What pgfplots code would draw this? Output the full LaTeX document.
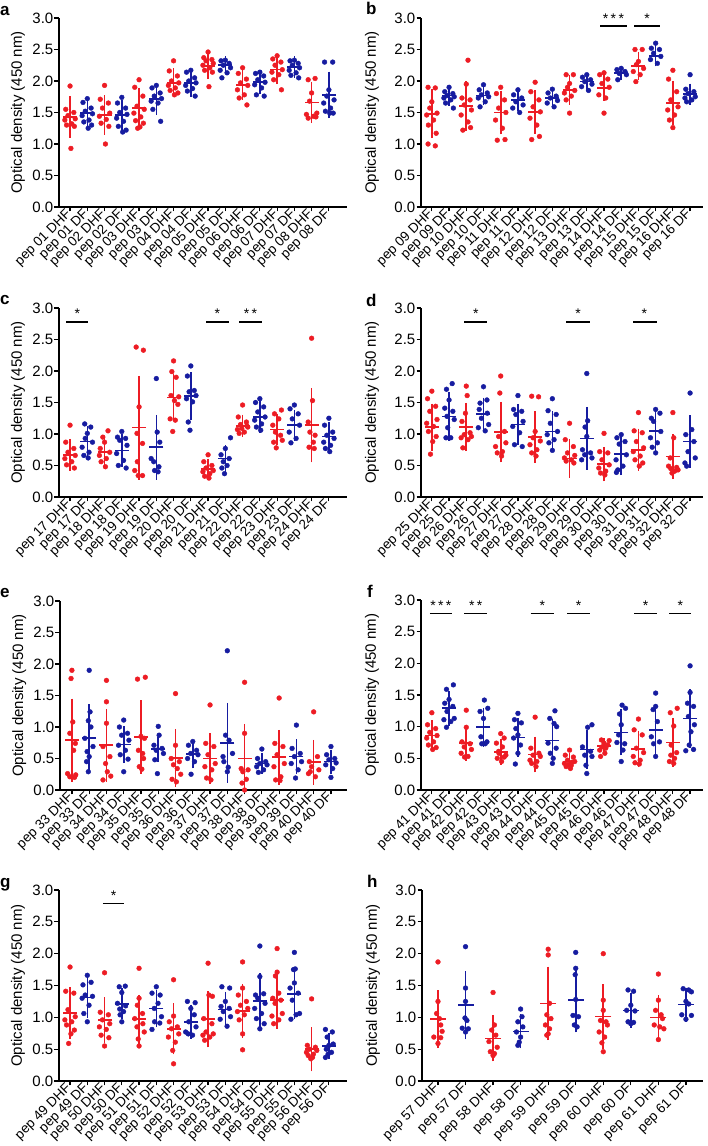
\documentclass[border=0pt]{standalone}
\usepackage{fontspec}
\setmainfont{Liberation Sans}
\usepackage{pgfplots}
\pgfplotsset{compat=1.18}
\definecolor{rc}{RGB}{237,28,36}
\definecolor{bc}{RGB}{22,28,160}
\pgfplotsset{
  panel/.style={
    scale only axis,
    axis lines*=left,
    ymin=0, ymax=3,
    ytick={0,0.5,1,1.5,2,2.5,3},
    yticklabels={0.0,0.5,1.0,1.5,2.0,2.5,3.0},
    xtick={0,...,15},
    tick align=outside,
    major tick length=4.5pt,
    axis line style={line width=1.4pt, black},
    tick style={line width=1.2pt, black},
    yticklabel style={font=\fontsize{15}{15}\selectfont, inner sep=1pt},
    xticklabel style={font=\fontsize{13.5}{13.5}\selectfont, rotate=45, anchor=east, inner sep=1pt},
    ylabel={Optical density (450 nm)},
    clip=false,
  },
  left panel/.style={panel, width=288pt, height=189pt, xmin=-0.64, xmax=16.05,
    ylabel style={font=\fontsize{15}{15}\selectfont, at={(axis description cs:-0.142,0.5)}, anchor=center}},
  right panel/.style={panel, width=282pt, height=189pt, xmin=-0.63, xmax=15.75,
    ylabel style={font=\fontsize{15}{15}\selectfont, at={(axis description cs:-0.174,0.5)}, anchor=center}},
  dots/.style={only marks, mark=*, mark size=2.4pt, color=#1, mark options={draw=none, fill=#1}},
  msd/.style={only marks, color=#1, mark=-, mark size=7pt, mark options={line width=1.6pt, draw=#1},
    error bars/y dir=both, error bars/y explicit, error bars/error mark=-,
    error bars/error mark options={line width=1.6pt, mark size=3.7pt, draw=#1},
    error bars/error bar style={line width=1.6pt, draw=#1}},
  msdh/.style={msd=#1, mark size=8pt, error bars/error mark options={line width=1.6pt, mark size=4.6pt, draw=#1}},
  sig/.style={black, line width=1.5pt, forget plot},
}
\tikzset{sigtxt/.style={font=\fontsize{14}{14}\selectfont, anchor=base, yshift=3pt, inner sep=0pt},
  letter/.style={font=\fontsize{17}{17}\bfseries\selectfont, anchor=base west, inner sep=0pt}}
\begin{document}
\begin{tikzpicture}
\useasboundingbox (0,0) rectangle (708pt,1146pt);
% ---------------- a
\begin{axis}[left panel, at={(59pt,939pt)}, anchor=south west,
 xticklabels={pep 01 DHF,pep 01 DF,pep 02 DHF,pep 02 DF,pep 03 DHF,pep 03 DF,pep 04 DHF,pep 04 DF,pep 05 DHF,pep 05 DF,pep 06 DHF,pep 06 DF,pep 07 DHF,pep 07 DF,pep 08 DHF,pep 08 DF}]
\addplot[dots=rc] coordinates {
(0,1.92)(-.25,1.55)(.22,1.50)(-.12,1.45)(.30,1.40)(-.30,1.38)(.10,1.32)(-.20,1.30)(.25,1.28)(.05,0.93)
(2,1.93)(1.75,1.71)(2.22,1.65)(1.88,1.57)(2.30,1.49)(1.70,1.44)(2.10,1.39)(1.80,1.33)(2.25,1.28)(2.05,1.00)
(4,2.02)(3.75,1.90)(4.22,1.76)(3.88,1.60)(4.30,1.55)(3.70,1.49)(4.10,1.43)(3.80,1.37)(4.25,1.33)(4.05,1.27)(3.92,1.25)
(6,2.32)(5.75,2.16)(6.22,2.08)(5.88,2.00)(6.30,1.97)(5.70,1.93)(6.10,1.89)(5.80,1.85)(6.25,1.81)(6.05,1.78)
(8,2.46)(7.75,2.37)(8.22,2.34)(7.88,2.32)(8.30,2.28)(7.70,2.25)(8.10,2.21)(7.80,2.17)(8.25,2.14)(8.05,1.91)
(10,2.21)(9.75,2.12)(10.22,2.03)(9.88,1.97)(10.30,1.93)(9.70,1.86)(10.10,1.78)(9.80,1.73)(10.25,1.62)
(12,2.40)(11.75,2.35)(12.22,2.30)(11.88,2.25)(12.30,2.18)(11.70,2.14)(12.10,2.10)(11.80,2.02)(12.25,1.86)
(13.8,2.02)(14.2,2.04)(14,1.81)(13.88,1.68)(14.30,1.49)(13.70,1.47)(14.10,1.44)(13.80,1.41)(14.25,1.43)};
\addplot[dots=bc] coordinates {
(1,1.72)(.75,1.66)(1.22,1.57)(.88,1.52)(1.30,1.48)(.70,1.45)(1.10,1.38)(.80,1.35)(1.25,1.30)(1.05,1.25)
(3,1.74)(2.75,1.65)(3.22,1.57)(2.88,1.50)(3.30,1.47)(2.70,1.41)(3.10,1.36)(2.80,1.28)(3.25,1.22)(3.05,1.19)
(5,1.93)(4.75,1.89)(5.22,1.81)(4.88,1.76)(5.30,1.72)(4.70,1.68)(5.10,1.65)(4.80,1.55)(5.25,1.36)
(7,2.17)(6.75,2.14)(7.22,2.05)(6.88,2.00)(7.30,1.97)(6.70,1.93)(7.10,1.88)(6.80,1.84)(7.25,1.76)
(9,2.33)(8.75,2.32)(9.22,2.28)(8.88,2.25)(9.30,2.21)(8.70,2.17)(9.10,2.13)(8.80,2.05)
(11,2.14)(10.75,2.12)(11.22,2.08)(10.88,2.02)(11.30,1.98)(10.70,1.94)(11.10,1.89)(10.80,1.78)(11.25,1.76)
(13,2.33)(12.75,2.32)(13.22,2.28)(12.88,2.25)(13.30,2.21)(12.70,2.17)(13.10,2.13)(12.80,2.09)(13.25,2.05)
(14.75,2.30)(15.22,2.30)(15,1.86)(14.88,1.76)(15.30,1.70)(14.70,1.65)(15.10,1.57)(14.80,1.52)(15.25,1.49)(15.05,1.49)};
\addplot[msd=rc] coordinates {(0,1.43)+-(0,0.27) (2,1.46)+-(0,0.255) (4,1.57)+-(0,0.265) (6,1.97)+-(0,0.17) (8,2.24)+-(0,0.15) (10,1.94)+-(0,0.18) (12,2.18)+-(0,0.17) (14,1.66)+-(0,0.27)};
\addplot[msd=bc] coordinates {(1,1.49)+-(0,0.19) (3,1.46)+-(0,0.185) (5,1.71)+-(0,0.185) (7,1.97)+-(0,0.165) (9,2.25)+-(0,0.08) (11,1.98)+-(0,0.135) (13,2.22)+-(0,0.11) (15,1.78)+-(0,0.31)};
\end{axis}
% ---------------- b
\begin{axis}[right panel, at={(421pt,939pt)}, anchor=south west,
 xticklabels={pep 09 DHF,pep 09 DF,pep 10 DHF,pep 10 DF,pep 11 DHF,pep 11 DF,pep 12 DHF,pep 12 DF,pep 13 DHF,pep 13 DF,pep 14 DHF,pep 14 DF,pep 15 DHF,pep 15 DF,pep 16 DHF,pep 16 DF}]
\addplot[dots=rc] coordinates {
(-.22,1.90)(.20,1.89)(0,1.67)(-.12,1.57)(.30,1.49)(-.30,1.46)(.10,1.38)(-.20,1.30)(.25,1.17)(-.22,1.00)(.20,0.97)
(2.10,2.33)(2,1.95)(1.75,1.73)(2.22,1.70)(1.88,1.62)(2.30,1.54)(1.70,1.46)(2.10,1.35)(2.25,1.26)(1.80,1.22)
(4,1.90)(3.75,1.80)(4.22,1.70)(3.88,1.57)(4.30,1.50)(3.70,1.38)(4.10,1.25)(3.80,1.06)(4.25,1.07)
(6,1.98)(5.75,1.83)(6.22,1.70)(5.88,1.59)(6.30,1.51)(5.70,1.41)(6.10,1.30)(6.25,1.12)(5.80,1.07)
(7.8,2.10)(8.22,2.10)(8,1.96)(7.88,1.90)(8.30,1.85)(7.70,1.81)(8.10,1.76)(7.80,1.70)(8,1.49)
(10,2.13)(9.75,2.10)(10.22,2.03)(9.88,1.96)(10.30,1.90)(9.70,1.78)(10.10,1.73)(10,1.49)
(11.8,2.50)(12.22,2.50)(12,2.31)(11.88,2.26)(12.30,2.20)(11.70,2.15)(12.10,2.10)(11.85,1.99)
(14,2.17)(13.75,2.03)(14.22,1.83)(13.88,1.70)(14.30,1.59)(13.70,1.54)(14.10,1.46)(13.80,1.38)(14,1.26)};
\addplot[dots=bc] coordinates {
(1,1.90)(.75,1.83)(1.22,1.80)(.88,1.77)(1.30,1.75)(.70,1.73)(1.10,1.70)(.80,1.65)(1.25,1.57)
(3,1.94)(2.75,1.86)(3.22,1.81)(2.88,1.78)(3.30,1.75)(2.70,1.73)(3.10,1.67)(2.80,1.59)
(5,1.86)(4.75,1.78)(5.22,1.73)(4.88,1.67)(5.30,1.62)(4.70,1.57)(5.10,1.50)
(7,1.87)(6.75,1.81)(7.22,1.76)(6.88,1.73)(7.30,1.69)(6.70,1.65)(7.10,1.59)
(9,2.10)(8.75,2.06)(9.22,2.02)(8.88,1.99)(9.30,1.95)(8.70,1.91)(9.10,1.85)
(11,2.20)(10.75,2.18)(11.22,2.15)(10.88,2.12)(11.30,2.10)(10.80,2.02)
(13,2.60)(12.75,2.52)(13.22,2.50)(12.88,2.44)(13.30,2.39)(12.70,2.34)(13.10,2.28)
(15,2.10)(14.75,1.87)(15.22,1.83)(14.88,1.80)(15.30,1.75)(14.70,1.73)(15.10,1.70)(14.80,1.67)};
\addplot[msd=rc] coordinates {(0,1.48)+-(0,0.33) (2,1.60)+-(0,0.34) (4,1.50)+-(0,0.29) (6,1.51)+-(0,0.285) (8,1.86)+-(0,0.18) (10,1.89)+-(0,0.145) (12,2.24)+-(0,0.165) (14,1.65)+-(0,0.295)};
\addplot[msd=bc] coordinates {(1,1.77)+-(0,0.105) (3,1.77)+-(0,0.085) (5,1.70)+-(0,0.12) (7,1.73)+-(0,0.085) (9,1.99)+-(0,0.075) (11,2.13)+-(0,0.055) (13,2.40)+-(0,0.11) (15,1.79)+-(0,0.11)};
\addplot[sig] coordinates {(9.77,2.87)(11.32,2.87)};
\addplot[sig] coordinates {(11.75,2.87)(13.25,2.87)};
\node[sigtxt] at (axis cs:10.55,2.87) {*\,*\,*};
\node[sigtxt] at (axis cs:12.5,2.87) {*};
\end{axis}
% ---------------- c
\begin{axis}[left panel, at={(59pt,649pt)}, anchor=south west,
 xticklabels={pep 17 DHF,pep 17 DF,pep 18 DHF,pep 18 DF,pep 19 DHF,pep 19 DF,pep 20 DHF,pep 20 DF,pep 21 DHF,pep 21 DF,pep 22 DHF,pep 22 DF,pep 23 DHF,pep 23 DF,pep 24 DHF,pep 24 DF}]
\addplot[dots=rc] coordinates {
(0,1.14)(-.25,0.87)(.22,0.77)(-.12,0.71)(.30,0.66)(-.30,0.61)(.10,0.56)(-.20,0.51)(.25,0.46)
(2.2,1.05)(1.9,0.95)(2,0.87)(1.75,0.77)(2.3,0.71)(1.7,0.66)(2.1,0.61)(1.8,0.56)(2.05,0.48)
(3.83,2.38)(4.25,2.33)(4,1.43)(3.88,1.01)(4.2,0.85)(3.9,0.56)(3.75,0.42)(3.95,0.34)(4.2,0.34)
(6,2.16)(5.9,1.99)(6.15,1.90)(5.85,1.61)(6.3,1.59)(6.05,1.53)(6.25,1.47)(5.8,1.24)(6.1,1.22)(5.95,1.04)
(8,0.67)(7.75,0.56)(8.22,0.50)(7.88,0.46)(8.30,0.42)(7.70,0.40)(8.10,0.37)(7.80,0.33)(8.05,0.30)
(10,1.46)(9.75,1.27)(10.22,1.19)(9.88,1.15)(10.30,1.11)(9.70,1.07)(10.10,1.03)(9.80,1.01)(10.25,1.13)(9.95,1.09)
(12.25,1.38)(11.85,1.32)(12.1,1.24)(11.75,1.14)(11.9,1.03)(12.2,0.98)(12.3,0.90)(11.8,0.87)(11.95,0.78)
(14,2.52)(14.05,1.53)(13.8,1.19)(13.9,1.03)(14.2,0.98)(14.1,0.87)(13.85,0.79)(14.15,0.77)};
\addplot[dots=bc] coordinates {
(.85,1.16)(1.2,1.11)(1,1.01)(.88,0.93)(1.3,0.87)(.7,0.79)(1.1,0.71)(.8,0.66)(1.05,0.62)
(3,1.04)(2.75,0.95)(3.22,0.93)(2.88,0.90)(3.30,0.82)(2.70,0.69)(3.10,0.58)(2.80,0.50)(3.25,0.46)
(5,1.88)(5.05,1.03)(5.2,0.87)(4.7,0.61)(4.85,0.56)(5.15,0.48)(4.9,0.42)(5.1,0.40)
(7,2.08)(6.8,1.92)(7.2,1.69)(6.9,1.67)(7.3,1.61)(6.75,1.56)(7.1,1.51)(6.85,1.19)(6.95,1.06)
(9.3,0.94)(9,0.77)(8.75,0.67)(9.22,0.61)(8.88,0.56)(9.1,0.50)(8.8,0.46)(8.95,0.37)
(11,1.56)(10.75,1.50)(11.22,1.43)(10.88,1.35)(11.30,1.27)(10.70,1.22)(11.10,1.16)(10.80,1.11)(11.05,1.06)
(13,1.46)(12.75,1.40)(13.22,1.32)(12.88,1.24)(13.30,1.14)(12.70,1.03)(13.10,0.93)(12.80,0.86)
(15,1.25)(14.75,1.14)(15.22,1.03)(14.88,0.98)(15.30,0.93)(14.70,0.87)(15.10,0.82)(14.80,0.77)(15.05,0.72)};
\addplot[msd=rc] coordinates {(0,0.67)+-(0,0.195) (2,0.71)+-(0,0.205) (4,1.10)+-(0,0.765) (6,1.58)+-(0,0.315) (8,0.44)+-(0,0.105) (10,1.13)+-(0,0.12) (12,1.07)+-(0,0.185) (14,1.14)+-(0,0.53)};
\addplot[msd=bc] coordinates {(1,0.88)+-(0,0.185) (3,0.74)+-(0,0.205) (5,0.79)+-(0,0.455) (7,1.60)+-(0,0.325) (9,0.61)+-(0,0.155) (11,1.27)+-(0,0.19) (13,1.14)+-(0,0.185) (15,0.96)+-(0,0.175)};
\addplot[sig] coordinates {(-0.22,2.78)(1.05,2.78)};
\addplot[sig] coordinates {(7.9,2.78)(9.2,2.78)};
\addplot[sig] coordinates {(9.82,2.78)(11.12,2.78)};
\node[sigtxt] at (axis cs:0.43,2.78) {*};
\node[sigtxt] at (axis cs:8.53,2.78) {*};
\node[sigtxt] at (axis cs:10.45,2.78) {*\,*};
\end{axis}
% ---------------- d
\begin{axis}[right panel, at={(421pt,649pt)}, anchor=south west,
 xticklabels={pep 25 DHF,pep 25 DF,pep 26 DHF,pep 26 DF,pep 27 DHF,pep 27 DF,pep 28 DHF,pep 28 DF,pep 29 DHF,pep 29 DF,pep 30 DHF,pep 30 DF,pep 31 DHF,pep 31 DF,pep 32 DHF,pep 32 DF}]
\addplot[dots=rc] coordinates {
(0,1.68)(-.25,1.56)(.22,1.44)(-.12,1.36)(.30,1.23)(-.30,1.17)(.10,1.12)(-.20,1.04)(.25,0.96)(.05,0.88)(-.08,0.68)
(2,1.76)(2.05,1.61)(1.95,1.33)(1.75,1.20)(2.22,1.02)(1.88,0.99)(2.30,0.96)(1.70,0.94)(2.10,0.91)(1.80,0.78)
(4,1.92)(3.95,1.65)(4.22,1.04)(3.88,0.96)(4.30,0.86)(3.70,0.80)(4.10,0.72)(3.80,0.70)(4.05,0.65)
(5.8,1.60)(6.2,1.59)(6,1.04)(5.88,0.94)(6.30,0.89)(5.70,0.83)(6.10,0.75)(5.80,0.70)(6.05,0.65)
(8,1.17)(7.75,0.91)(8.22,0.80)(7.88,0.70)(8.30,0.66)(7.70,0.62)(8.10,0.59)(7.80,0.57)(8.25,0.54)
(10,1.01)(9.75,0.72)(10.22,0.70)(9.88,0.59)(10.30,0.51)(9.70,0.46)(10.10,0.41)(9.80,0.38)(10.05,0.35)
(12,1.34)(11.75,1.05)(12.22,1.02)(11.88,0.88)(12.30,0.78)(11.70,0.72)(12.10,0.65)(11.80,0.59)(12.25,0.54)(12.05,0.49)
(14,1.34)(14.05,0.94)(13.85,0.62)(13.75,0.49)(14.22,0.47)(13.88,0.45)(14.30,0.43)(14.10,0.41)(13.95,0.38)};
\addplot[dots=bc] coordinates {
(1.18,1.80)(.85,1.71)(1,1.54)(.75,1.41)(1.22,1.36)(.88,1.28)(1.3,1.23)(.92,1.10)(.82,0.94)(1.1,0.94)
(3,1.75)(3.2,1.54)(2.8,1.49)(2.75,1.39)(3.22,1.33)(2.88,1.25)(3.30,1.15)(2.70,1.10)(3.10,1.05)
(5,1.61)(4.75,1.39)(5.22,1.36)(4.88,1.31)(5.30,1.20)(4.70,1.12)(5.10,1.02)(4.80,0.83)(5.25,0.80)
(7,1.56)(6.75,1.37)(7.22,1.31)(6.88,1.17)(7.30,1.04)(6.70,0.99)(7.10,0.91)(6.80,0.86)(7,0.74)
(9,1.96)(9.05,1.21)(8.9,1.11)(9,0.96)(8.75,0.75)(9.22,0.70)(8.88,0.67)(9.30,0.62)(8.70,0.59)
(11,0.99)(10.75,0.94)(11.22,0.88)(10.88,0.84)(11.30,0.67)(10.70,0.59)(11.10,0.49)(10.80,0.43)(10.72,0.39)
(13,1.39)(13.25,1.33)(12.75,1.25)(12.88,1.20)(13.30,1.04)(12.70,0.94)(13.10,0.86)(12.80,0.79)(13,0.70)
(15,1.65)(15.1,1.07)(14.75,0.99)(15.22,0.88)(14.88,0.72)(15.30,0.62)(14.70,0.54)(14.80,0.49)};
\addplot[msd=rc] coordinates {(0,1.11)+-(0,0.315) (2,1.11)+-(0,0.325) (4,1.03)+-(0,0.42) (6,0.95)+-(0,0.35) (8,0.61)+-(0,0.245) (10,0.52)+-(0,0.215) (12,0.75)+-(0,0.275) (14,0.64)+-(0,0.295)};
\addplot[msd=bc] coordinates {(1,1.28)+-(0,0.33) (3,1.32)+-(0,0.20) (5,1.15)+-(0,0.27) (7,1.04)+-(0,0.265) (9,0.93)+-(0,0.44) (11,0.68)+-(0,0.275) (13,1.05)+-(0,0.28) (15,0.88)+-(0,0.36)};
\addplot[sig] coordinates {(1.88,2.78)(3.22,2.78)};
\addplot[sig] coordinates {(7.8,2.78)(9.2,2.78)};
\addplot[sig] coordinates {(11.7,2.78)(13.1,2.78)};
\node[sigtxt] at (axis cs:2.55,2.78) {*};
\node[sigtxt] at (axis cs:8.5,2.78) {*};
\node[sigtxt] at (axis cs:12.35,2.78) {*};
\end{axis}
% ---------------- e
\begin{axis}[left panel, at={(60pt,356pt)}, anchor=south west, width=287pt, xmin=-0.69, xmax=15.93,
 xticklabels={pep 33 DHF,pep 33 DF,pep 34 DHF,pep 34 DF,pep 35 DHF,pep 35 DF,pep 36 DHF,pep 36 DF,pep 37 DHF,pep 37 DF,pep 38 DHF,pep 38 DF,pep 39 DHF,pep 39 DF,pep 40 DHF,pep 40 DF}]
\addplot[dots=rc] coordinates {
(0,1.90)(-.05,1.77)(.05,1.08)(-.12,0.90)(.2,0.74)(.1,0.63)(-.25,0.26)(.22,0.24)(-.12,0.21)(.15,0.20)
(2,1.74)(2,1.40)(2,1.06)(1.8,0.69)(2.2,0.53)(1.95,0.42)(2.05,0.29)(2.25,0.22)(1.8,0.16)
(4.25,1.79)(3.8,1.76)(4,0.85)(4.2,0.82)(3.85,0.63)(4.1,0.58)(4.15,0.50)(3.9,0.37)(4.05,0.33)
(6,1.53)(6,0.71)(5.75,0.50)(6.22,0.45)(5.88,0.40)(6.1,0.34)(6.3,0.25)(5.8,0.17)(6.05,0.13)
(8,1.35)(7.75,0.74)(8.22,0.69)(7.88,0.56)(8.30,0.42)(7.70,0.37)(8.10,0.32)(7.80,0.19)(8.05,0.16)
(10,1.71)(10,0.90)(9.8,0.34)(10.2,0.32)(9.9,0.29)(10.1,0.17)(9.85,0.11)(10,0.00)
(12,1.46)(11.75,0.74)(12.22,0.69)(11.88,0.56)(12.30,0.42)(11.70,0.37)(12.10,0.21)(11.80,0.16)(12.05,0.15)
(14,1.24)(14.22,0.53)(13.75,0.45)(13.88,0.37)(14.30,0.32)(13.70,0.26)(14.10,0.21)(13.8,0.29)};
\addplot[dots=bc] coordinates {
(1,1.90)(1.05,1.24)(.95,1.10)(1.1,1.00)(.75,0.82)(1.22,0.69)(.88,0.61)(1,0.53)(.85,0.45)(.95,0.29)
(3,1.11)(2.75,1.00)(3.22,0.90)(2.88,0.87)(3.30,0.79)(2.70,0.71)(3.10,0.63)(2.80,0.56)(3.25,0.49)(3,0.29)
(5,1.01)(5.05,0.87)(4.75,0.71)(5.22,0.66)(4.88,0.63)(5.30,0.58)(4.80,0.48)(4.95,0.26)
(7,0.77)(6.75,0.71)(7.22,0.63)(6.88,0.58)(7.30,0.56)(6.70,0.50)(7.10,0.45)(6.9,0.25)
(9,2.21)(8.9,0.87)(9.1,0.79)(9.3,0.58)(8.75,0.53)(8.8,0.45)(9.05,0.36)(9,0.29)
(11,0.65)(10.75,0.50)(11.22,0.45)(10.88,0.42)(11.30,0.40)(10.70,0.37)(11.10,0.32)(10.80,0.28)
(13,1.03)(12.75,0.66)(13.22,0.58)(12.88,0.53)(13.30,0.45)(12.70,0.42)(13.10,0.32)(12.95,0.19)
(15,0.69)(14.75,0.56)(15.22,0.50)(14.88,0.48)(15.30,0.43)(14.70,0.40)(15.10,0.34)(15,0.20)};
\addplot[msd=rc] coordinates {(0,0.79)+-(0,0.60) (2,0.71)+-(0,0.52) (4,0.84)+-(0,0.525) (6,0.51)+-(0,0.40) (8,0.50)+-(0,0.345) (10,0.50)+-(0,0.49) (12,0.52)+-(0,0.375) (14,0.44)+-(0,0.295)};
\addplot[msd=bc] coordinates {(1,0.83)+-(0,0.47) (3,0.72)+-(0,0.235) (5,0.65)+-(0,0.14) (7,0.57)+-(0,0.17) (9,0.75)+-(0,0.575) (11,0.42)+-(0,0.105) (13,0.53)+-(0,0.215) (15,0.45)+-(0,0.13)};
\end{axis}
% ---------------- f
\begin{axis}[right panel, at={(421pt,356pt)}, anchor=south west, height=190pt,
 xticklabels={pep 41 DHF,pep 41 DF,pep 42 DHF,pep 42 DF,pep 43 DHF,pep 43 DF,pep 44 DHF,pep 44 DF,pep 45 DHF,pep 45 DF,pep 46 DHF,pep 46 DF,pep 47 DHF,pep 47 DF,pep 48 DHF,pep 48 DF}]
\addplot[dots=rc] coordinates {
(0,1.22)(-.25,1.03)(.22,0.97)(-.12,0.91)(.30,0.86)(-.30,0.82)(.10,0.76)(-.20,0.71)(.25,0.67)(.05,0.64)
(2,1.26)(2,0.99)(1.75,0.76)(2.22,0.73)(1.88,0.68)(2.30,0.64)(1.70,0.58)(2.10,0.53)(1.90,0.52)
(4,0.89)(4.2,0.82)(3.75,0.74)(4.1,0.68)(3.88,0.61)(4.30,0.55)(3.80,0.50)(4.05,0.45)(3.9,0.58)(4.2,0.52)
(6,1.15)(5.75,0.66)(6.22,0.58)(5.88,0.55)(6.30,0.53)(5.70,0.47)(6.10,0.45)(5.80,0.42)(6.05,0.37)
(8,0.63)(7.75,0.55)(8.22,0.52)(7.88,0.47)(8.30,0.45)(7.70,0.42)(8.10,0.39)(7.80,0.37)(8.05,0.34)(8.15,0.44)(7.95,0.40)
(9.85,0.79)(10.3,0.78)(10,0.74)(10.22,0.71)(9.88,0.68)(10.1,0.66)(9.75,0.63)(10.05,0.58)(9.8,0.53)
(12,1.12)(11.75,0.95)(12.22,0.87)(11.88,0.66)(12.30,0.59)(11.70,0.53)(12.10,0.47)(11.80,0.43)(12.05,0.41)
(14.25,1.29)(13.85,1.22)(14.05,1.01)(13.9,0.71)(14.22,0.59)(13.88,0.55)(14.1,0.50)(13.8,0.45)(14.05,0.42)};
\addplot[dots=bc] coordinates {
(1.25,1.66)(.85,1.59)(1,1.43)(.75,1.37)(1.22,1.32)(.88,1.24)(1.30,1.13)(.70,1.11)(1.10,1.08)(.85,0.99)
(3.05,1.42)(3.25,1.29)(2.8,1.24)(3,1.13)(2.85,0.84)(3.2,0.76)(2.9,0.73)(3.1,0.73)
(5,1.21)(4.8,1.11)(5.2,1.06)(4.88,0.97)(5,0.87)(4.75,0.82)(5.15,0.71)(5,0.58)(4.85,0.41)
(7.15,1.25)(6.85,1.13)(7.1,1.05)(7.25,1.00)(6.75,0.74)(7.22,0.66)(6.88,0.58)(7.05,0.50)(7,0.42)
(9.3,1.03)(9.05,0.99)(8.75,0.68)(9.22,0.61)(8.88,0.55)(9.30,0.53)(8.95,0.39)(9,0.26)
(11.05,1.34)(11.25,1.29)(10.9,1.20)(11,1.03)(10.85,0.87)(10.75,0.75)(11.2,0.73)(11.1,0.63)(11,0.45)
(13,1.53)(13,1.32)(12.85,1.27)(13.1,1.08)(12.75,0.84)(13.22,0.76)(12.88,0.73)(13,0.53)
(15,1.96)(15,1.54)(14.85,1.37)(15.2,1.32)(14.9,1.16)(15.25,1.03)(15.05,0.92)(14.95,0.71)(15.2,0.64)(14.75,0.62)};
\addplot[msd=rc] coordinates {(0,0.86)+-(0,0.18) (2,0.74)+-(0,0.22) (4,0.60)+-(0,0.145) (6,0.56)+-(0,0.225) (8,0.45)+-(0,0.08) (10,0.69)+-(0,0.065) (12,0.65)+-(0,0.23) (14,0.75)+-(0,0.33)};
\addplot[msd=bc] coordinates {(1,1.29)+-(0,0.215) (3,0.99)+-(0,0.25) (5,0.83)+-(0,0.25) (7,0.78)+-(0,0.275) (9,0.64)+-(0,0.25) (11,0.91)+-(0,0.305) (13,0.95)+-(0,0.34) (15,1.13)+-(0,0.405)};
\addplot[sig] coordinates {(-0.11,2.79)(1.15,2.79)};
\addplot[sig] coordinates {(1.89,2.79)(3.2,2.79)};
\addplot[sig] coordinates {(5.74,2.79)(7.1,2.79)};
\addplot[sig] coordinates {(7.87,2.79)(9.2,2.79)};
\addplot[sig] coordinates {(11.75,2.79)(13.1,2.79)};
\addplot[sig] coordinates {(13.8,2.79)(15.06,2.79)};
\node[sigtxt] at (axis cs:0.52,2.79) {*\,*\,*};
\node[sigtxt] at (axis cs:2.55,2.79) {*\,*};
\node[sigtxt] at (axis cs:6.42,2.79) {*};
\node[sigtxt] at (axis cs:8.53,2.79) {*};
\node[sigtxt] at (axis cs:12.42,2.79) {*};
\node[sigtxt] at (axis cs:14.43,2.79) {*};
\end{axis}
% ---------------- g
\begin{axis}[left panel, at={(59pt,65pt)}, anchor=south west, height=191pt,
 xticklabels={pep 49 DHF,pep 49 DF,pep 50 DHF,pep 50 DF,pep 51 DHF,pep 51 DF,pep 52 DHF,pep 52 DF,pep 53 DHF,pep 53 DF,pep 54 DHF,pep 54 DF,pep 55 DHF,pep 55 DF,pep 56 DHF,pep 56 DF}]
\addplot[dots=rc] coordinates {
(0,1.79)(-.25,1.41)(.22,1.38)(-.12,1.12)(.30,1.01)(-.30,0.96)(.10,0.93)(-.20,0.88)(.25,0.80)(.05,0.74)(-.08,0.59)
(2,1.70)(1.75,1.08)(2.22,1.04)(1.88,0.96)(2.30,0.90)(1.70,0.85)(2.10,0.81)(1.80,0.72)(2.25,0.68)(2,0.55)
(4,1.77)(4,1.30)(3.9,1.19)(4.2,1.06)(3.75,0.98)(4.22,0.90)(3.88,0.85)(4.30,0.77)(3.95,0.66)(4,0.55)
(6,1.59)(6,1.02)(5.75,0.93)(6.22,0.85)(5.88,0.82)(6.30,0.74)(5.70,0.69)(6.10,0.61)(5.95,0.48)(6,0.27)
(8,1.85)(8.05,1.35)(8.25,1.33)(7.75,0.98)(8.22,0.90)(7.88,0.77)(8.30,0.74)(7.70,0.72)(8.10,0.69)(7.80,0.64)
(10,1.87)(10,1.46)(9.75,1.35)(10.22,1.25)(9.88,1.19)(10.30,1.14)(9.70,1.09)(10.10,1.04)(9.80,0.96)(10,0.74)(10,0.49)
(12,2.08)(12,1.71)(11.9,1.65)(12.1,1.38)(11.75,1.30)(12.22,1.27)(11.88,1.22)(12.30,1.06)(11.70,1.02)(12.10,0.96)(11.80,0.90)
(14,1.29)(13.75,0.56)(14.22,0.53)(13.88,0.50)(14.30,0.48)(13.70,0.45)(14.10,0.42)(13.80,0.40)(14.05,0.37)(13.95,0.35)};
\addplot[dots=bc] coordinates {
(1,1.66)(1.22,1.55)(.75,1.51)(.88,1.35)(1.30,1.33)(.70,1.30)(1.10,1.19)(.80,1.06)(1,0.93)
(2.85,1.48)(3.2,1.49)(3,1.39)(2.75,1.22)(3.22,1.18)(2.88,1.13)(3.1,1.09)(2.9,1.04)(3,0.93)
(5,1.48)(4.75,1.38)(5.22,1.35)(5.1,1.22)(4.88,1.14)(5.30,1.01)(4.9,0.93)(5.2,0.91)(4.75,0.81)
(6.8,1.25)(7.25,1.23)(7,1.14)(7.2,1.04)(6.88,0.93)(7.30,0.85)(6.70,0.77)(7.10,0.72)(6.85,0.74)
(8.8,1.48)(9.25,1.46)(9,1.25)(8.75,1.17)(9.22,1.14)(8.88,1.09)(9.30,1.01)(8.70,0.97)(9.10,0.86)
(11,2.12)(11,1.64)(10.75,1.35)(11.22,1.37)(10.88,1.30)(11.30,1.22)(10.70,1.14)(11.10,1.06)(10.80,0.98)(11.25,0.90)(11,0.82)
(13,2.02)(13.05,1.76)(12.95,1.75)(13,1.54)(12.75,1.46)(13.22,1.38)(12.88,1.27)(13.30,1.06)(13.1,1.04)(12.80,0.97)
(14.8,0.81)(15.2,0.77)(14.9,0.69)(15.25,0.58)(15,0.56)(14.85,0.50)(15.15,0.45)(14.95,0.42)(14.8,0.37)};
\addplot[msd=rc] coordinates {(0,1.07)+-(0,0.345) (2,0.96)+-(0,0.30) (4,0.97)+-(0,0.33) (6,0.82)+-(0,0.345) (8,0.97)+-(0,0.385) (10,1.10)+-(0,0.36) (12,1.27)+-(0,0.39) (14,0.50)+-(0,0.29)};
\addplot[msd=bc] coordinates {(1,1.31)+-(0,0.26) (3,1.21)+-(0,0.185) (5,1.14)+-(0,0.235) (7,0.93)+-(0,0.21) (9,1.12)+-(0,0.22) (11,1.26)+-(0,0.375) (13,1.37)+-(0,0.335) (15,0.55)+-(0,0.145)};
\addplot[sig] coordinates {(1.9,2.79)(3.13,2.79)};
\node[sigtxt] at (axis cs:2.53,2.79) {*};
\end{axis}
% ---------------- h
\begin{axis}[right panel, at={(422pt,65pt)}, anchor=south west, height=191pt, width=281pt, xmin=-0.58, xmax=9.62, xtick={0,...,9},
 xticklabels={pep 57 DHF,pep 57 DF,pep 58 DHF,pep 58 DF,pep 59 DHF,pep 59 DF,pep 60 DHF,pep 60 DF,pep 61 DHF,pep 61 DF}]
\addplot[dots=rc] coordinates {
(0,1.87)(0,1.25)(-.05,1.06)(.05,0.98)(.1,0.88)(.15,0.78)(-.15,0.69)(.1,0.68)(0,0.59)
(2,1.39)(2.05,0.88)(1.95,0.80)(2.1,0.72)(1.85,0.62)(2.15,0.53)(1.9,0.46)(2.05,0.43)(2,0.40)
(4,2.07)(4,1.98)(4.05,1.22)(3.95,1.04)(4.1,0.98)(3.9,0.88)(4.05,0.82)(4,0.74)(3.95,0.72)
(6,2.00)(6,1.27)(6,1.11)(5.9,0.95)(6.1,0.93)(6.15,0.88)(5.85,0.77)(6.05,0.69)(5.95,0.60)(6,0.46)
(8,1.68)(8,1.27)(7.9,1.11)(8.1,1.04)(8.15,0.98)(7.85,0.88)(8.05,0.85)(8.2,0.82)(8,0.65)};
\addplot[dots=bc] coordinates {
(1,2.11)(1,1.46)(1,1.25)(.98,0.99)(1.05,0.95)(.88,0.83)(1.1,0.82)(1,0.77)
(3,1.13)(3.05,1.01)(2.9,0.93)(3.08,0.85)(2.85,0.77)(3,0.69)(2.95,0.61)(2.9,0.56)
(5,2.02)(5,1.77)(4.98,1.67)(5,1.28)(4.9,1.03)(5.1,1.01)(4.95,0.88)(5.05,0.85)
(6.9,1.43)(7.1,1.41)(7,1.19)(6.85,1.11)(7.15,1.10)(6.9,0.93)(7.1,0.92)(7,0.90)
(8.9,1.45)(9.1,1.43)(9.2,1.40)(9,1.25)(9.1,1.21)(8.85,1.04)(9.2,1.03)(9,0.97)};
\addplot[msdh=rc] coordinates {(0,0.97)+-(0,0.38) (2,0.67)+-(0,0.29) (4,1.22)+-(0,0.505) (6,1.01)+-(0,0.435) (8,1.00)+-(0,0.275)};
\addplot[msdh=bc] coordinates {(1,1.19)+-(0,0.465) (3,0.78)+-(0,0.195) (5,1.27)+-(0,0.435) (7,1.11)+-(0,0.205) (9,1.20)+-(0,0.195)};
\end{axis}
% ---------------- panel letters
\node[letter] at (0pt,1130pt) {a};
\node[letter] at (366pt,1131pt) {b};
\node[letter] at (0pt,841pt) {c};
\node[letter] at (366pt,839pt) {d};
\node[letter] at (0pt,548pt) {e};
\node[letter] at (367pt,548pt) {f};
\node[letter] at (0pt,258pt) {g};
\node[letter] at (367pt,258pt) {h};
\end{tikzpicture}
\end{document}
